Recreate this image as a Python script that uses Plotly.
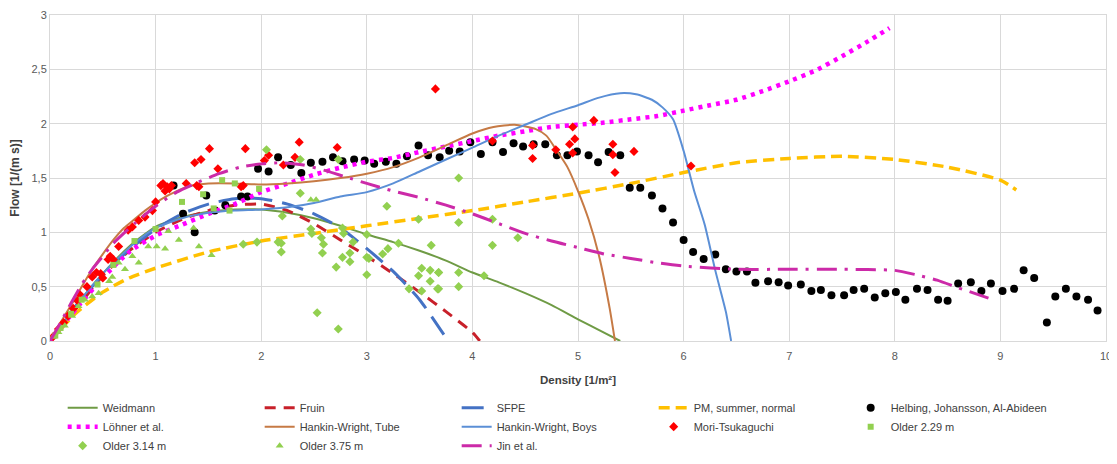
import plotly.graph_objects as go

# ---------------- data ----------------
weid_x = [0, 0.25, 0.5, 0.75, 1, 1.25, 1.5, 1.75, 2, 2.25, 2.5, 2.75, 3, 3.25, 3.5, 3.75, 4, 4.25, 4.5, 4.75, 5, 5.2, 5.4]
weid_y = [0, 0.33, 0.62, 0.87, 1.05, 1.14, 1.19, 1.21, 1.21, 1.18, 1.13, 1.06, 0.98, 0.91, 0.83, 0.74, 0.63, 0.54, 0.44, 0.33, 0.2, 0.1, 0]

fruin_x = [0, 0.25, 0.5, 0.75, 1, 1.25, 1.5, 1.75, 2, 2.25, 2.5, 2.75, 3, 3.25, 3.5, 3.75, 4, 4.07]
fruin_y = [0, 0.3, 0.6, 0.83, 1.0, 1.12, 1.2, 1.25, 1.26, 1.2, 1.08, 0.93, 0.78, 0.62, 0.45, 0.27, 0.08, 0]

sfpe_x = [0, 0.25, 0.5, 0.75, 1, 1.25, 1.5, 1.75, 2, 2.25, 2.5, 2.75, 3, 3.25, 3.5, 3.77]
sfpe_y = [0, 0.33, 0.61, 0.84, 1.03, 1.17, 1.26, 1.31, 1.31, 1.26, 1.17, 1.04, 0.85, 0.64, 0.38, 0]

pm_x = [0, 0.25, 0.5, 0.75, 1, 1.5, 2, 2.5, 3, 3.5, 4, 4.5, 5, 5.5, 6, 6.5, 7, 7.5, 8, 8.5, 9, 9.15]
pm_y = [0, 0.26, 0.45, 0.58, 0.67, 0.82, 0.92, 0.99, 1.06, 1.13, 1.2, 1.28, 1.36, 1.45, 1.55, 1.64, 1.68, 1.7, 1.67, 1.6, 1.48, 1.39]

helb_x = [1.17, 1.26, 1.37, 1.48, 1.56, 1.66, 1.81, 1.87, 1.97, 2.07, 2.16, 2.28, 2.38, 2.47, 2.58, 2.68, 2.77, 2.88,
          2.98, 3.07, 3.18, 3.28, 3.38, 3.49, 3.58, 3.69, 3.78, 3.88, 3.98, 4.08, 4.19, 4.29, 4.39, 4.48, 4.58, 4.69,
          4.80, 4.90, 4.99, 5.10, 5.19, 5.29, 5.40, 5.49, 5.59, 5.70, 5.80, 5.90, 6.00, 6.09, 6.19, 6.30, 6.40, 6.50,
          6.60, 6.68, 6.80, 6.90, 6.99, 7.11, 7.21, 7.30, 7.40, 7.52, 7.61, 7.71, 7.81, 7.91, 8.01, 8.10, 8.21, 8.31,
          8.41, 8.50, 8.60, 8.72, 8.82, 8.91, 9.02, 9.13, 9.22, 9.32, 9.44, 9.52, 9.62, 9.72, 9.83, 9.92]
helb_y = [1.43, 1.17, 1.00, 1.34, 1.20, 1.25, 1.33, 1.33, 1.585, 1.56, 1.69, 1.62, 1.545, 1.64, 1.65, 1.69, 1.655, 1.67,
          1.66, 1.63, 1.65, 1.63, 1.70, 1.80, 1.71, 1.69, 1.75, 1.745, 1.83, 1.72, 1.83, 1.74, 1.82, 1.79, 1.81, 1.81,
          1.71, 1.71, 1.745, 1.71, 1.645, 1.74, 1.71, 1.41, 1.41, 1.34, 1.22, 1.09, 0.93, 0.82, 0.755, 0.795, 0.66, 0.64,
          0.64, 0.535, 0.55, 0.54, 0.51, 0.52, 0.46, 0.47, 0.42, 0.42, 0.47, 0.48, 0.40, 0.44, 0.45, 0.38, 0.48, 0.47,
          0.38, 0.37, 0.53, 0.54, 0.46, 0.53, 0.46, 0.48, 0.65, 0.58, 0.17, 0.41, 0.48, 0.41, 0.38, 0.28]

lohner_x = [0, 0.25, 0.5, 0.75, 1, 1.25, 1.5, 1.75, 2, 2.25, 2.5, 2.75, 3, 3.25, 3.5, 3.75, 4, 4.25, 4.5, 4.75,
            5, 5.25, 5.5, 5.75, 6, 6.25, 6.5, 6.75, 7, 7.25, 7.5, 7.75, 7.95]
lohner_y = [0, 0.3, 0.58, 0.82, 0.97, 1.07, 1.17, 1.26, 1.37, 1.45, 1.53, 1.595, 1.65, 1.685, 1.74, 1.79, 1.84, 1.89,
            1.93, 1.97, 1.99, 2.01, 2.04, 2.07, 2.12, 2.17, 2.22, 2.30, 2.39, 2.49, 2.62, 2.76, 2.88]

hwt_x = [0, 0.1, 0.2, 0.3, 0.4, 0.5, 0.6, 0.7, 0.8, 0.9, 1.0, 1.1, 1.2, 1.3, 1.4, 1.5, 1.75, 2, 2.25, 2.5, 2.75, 3,
         3.25, 3.5, 3.75, 4, 4.2, 4.4, 4.6, 4.7, 4.8, 4.9, 5.0, 5.1, 5.2, 5.3, 5.35]
hwt_y = [0, 0.17, 0.33, 0.5, 0.66, 0.8, 0.93, 1.04, 1.12, 1.2, 1.27, 1.33, 1.38, 1.42, 1.44, 1.45, 1.45, 1.44, 1.45,
         1.47, 1.5, 1.54, 1.6, 1.69, 1.8, 1.91, 1.97, 1.99, 1.95, 1.89, 1.75, 1.6, 1.38, 1.12, 0.78, 0.3, 0]

hwb_x = [0, 0.1, 0.2, 0.3, 0.4, 0.5, 0.6, 0.8, 1.0, 1.25, 1.5, 1.75, 2, 2.25, 2.5, 2.75, 3, 3.25, 3.5, 3.75, 4,
         4.25, 4.5, 4.75, 5, 5.2, 5.4, 5.55, 5.7, 5.8, 5.9, 6.0, 6.1, 6.2, 6.3, 6.4, 6.45]
hwb_y = [0, 0.13, 0.26, 0.39, 0.51, 0.62, 0.72, 0.9, 1.04, 1.13, 1.18, 1.2, 1.21, 1.23, 1.27, 1.33, 1.37, 1.45, 1.56,
         1.67, 1.78, 1.89, 1.99, 2.09, 2.17, 2.24, 2.28, 2.27, 2.22, 2.15, 2.04, 1.75, 1.38, 1.07, 0.65, 0.27, 0]

mori_x = [0.03, 0.08, 0.13, 0.17, 0.22, 0.26, 0.28, 0.35, 0.40, 0.44, 0.48, 0.50, 0.55, 0.57, 0.60, 0.65, 0.74, 0.78,
          0.84, 0.90, 0.97, 1.0, 1.05, 1.07, 1.09, 1.11, 1.13, 1.15, 1.29, 1.39, 1.41, 1.37, 1.43, 1.51, 1.59, 1.81,
          1.83, 1.85, 2.03, 2.07, 2.21, 2.32, 2.36, 2.72, 3.65, 4.19, 4.57, 4.57, 4.79, 4.92, 4.95, 4.97, 4.95, 5.15,
          5.33, 5.33, 5.35, 5.53, 6.07]
mori_y = [0.04, 0.11, 0.17, 0.23, 0.30, 0.37, 0.43, 0.50, 0.59, 0.63, 0.62, 0.58, 0.75, 0.78, 0.75, 0.87, 1.02, 1.05,
          1.11, 1.14, 1.2, 1.28, 1.43, 1.45, 1.38, 1.42, 1.40, 1.43, 1.45, 1.43, 1.42, 1.64, 1.67, 1.77, 1.585, 1.42,
          1.43, 1.77, 1.66, 1.71, 1.62, 1.69, 1.83, 1.78, 2.32, 1.84, 1.68, 1.80, 1.76, 1.81, 1.73, 1.86, 1.97, 2.03,
          1.81, 1.715, 1.55, 1.745, 1.61]

old229_x = [0.05, 0.1, 0.2, 0.3, 0.45, 0.6, 0.8, 1.0, 1.25, 1.45, 1.55, 1.63, 1.7, 1.75, 1.98]
old229_y = [0.05, 0.12, 0.25, 0.38, 0.52, 0.7, 0.92, 1.03, 1.28, 1.35, 1.22, 1.48, 1.2, 1.45, 1.4]

old314_x = [2.05, 2.37, 2.73, 2.37, 2.2, 2.47, 2.48, 2.57, 2.59, 2.58, 2.77, 2.78, 2.87, 2.84, 2.77, 2.84, 2.71, 3.0,
            3.0, 3.02, 3.0, 3.15, 3.2, 3.19, 3.3, 3.49, 3.61, 3.49, 3.52, 3.6, 3.68, 3.6, 3.67, 3.52, 3.4, 3.87, 3.87,
            3.87, 3.87, 2.16, 2.19, 2.19, 1.96, 1.83, 2.53, 2.73, 4.19, 4.43, 4.19, 4.11, 3.68, 3.68]
old314_y = [1.76, 1.67, 1.67, 1.36, 1.15, 1.03, 0.99, 0.95, 0.89, 0.81, 1.04, 0.99, 0.91, 0.81, 0.77, 0.73, 0.68, 0.77,
            0.98, 0.76, 0.61, 0.8, 0.85, 1.24, 0.90, 1.12, 0.88, 0.6, 0.67, 0.65, 0.63, 0.55, 0.48, 0.46, 0.48, 1.50, 1.09,
            0.63, 0.50, 0.91, 0.90, 0.82, 0.91, 0.89, 0.26, 0.11, 1.12, 0.95, 0.88, 0.60, 0.63, 0.48]

old375_x = [0.03, 0.08, 0.14, 0.21, 0.27, 0.33, 0.40, 0.46, 0.56, 0.59, 0.65, 0.71, 0.78, 0.84, 0.93, 1.01, 1.09,
            1.12, 1.22, 1.36, 1.41, 1.53, 2.47, 2.52]
old375_y = [0.04, 0.08, 0.14, 0.23, 0.32, 0.38, 0.41, 0.44, 0.55, 0.59, 0.72, 0.66, 0.78, 0.72, 0.87, 0.87, 0.85,
            1.01, 0.93, 1.04, 0.87, 0.79, 1.30, 1.30]

jin_x = [0, 0.1, 0.2, 0.3, 0.4, 0.5, 0.6, 0.8, 1.0, 1.2, 1.4, 1.6, 1.8, 2.0, 2.2, 2.4, 2.6, 2.8, 3.0, 3.25, 3.5, 3.75,
         4.0, 4.25, 4.5, 4.75, 5.0, 5.25, 5.5, 5.75, 6.0, 6.5, 7.0, 7.5, 8.0, 8.2, 8.4, 8.6, 8.9]
jin_y = [0, 0.17, 0.35, 0.52, 0.66, 0.78, 0.9, 1.08, 1.24, 1.37, 1.46, 1.54, 1.6, 1.63, 1.64, 1.62, 1.57, 1.51, 1.45,
         1.38, 1.32, 1.25, 1.17, 1.08, 0.99, 0.92, 0.86, 0.8, 0.76, 0.72, 0.69, 0.66, 0.66, 0.66, 0.65, 0.61, 0.56, 0.49,
         0.39]

GREEN = "#92d050"

fig = go.Figure()


def line(x, y, name, color, width, dash="solid"):
    fig.add_trace(go.Scatter(x=x, y=y, name=name, mode="lines",
                             line=dict(color=color, width=width, dash=dash, shape="spline", smoothing=0.6)))


def pts(x, y, name, color, symbol, size):
    fig.add_trace(go.Scatter(x=x, y=y, name=name, mode="markers",
                             marker=dict(color=color, symbol=symbol, size=size, line=dict(width=0))))


line(weid_x, weid_y, "Weidmann", "#6f9b45", 2)
line(fruin_x, fruin_y, "Fruin", "#c8202a", 3, "11px,8px")
line(sfpe_x, sfpe_y, "SFPE", "#4472c4", 3, "22px,10px")
line(pm_x, pm_y, "PM, summer, normal", "#ffc000", 3.5, "11px,6px")
pts(helb_x, helb_y, "Helbing, Johansson, Al-Abideen", "black", "circle", 8)
line(lohner_x, lohner_y, "Löhner et al.", "#ff00ff", 4.5, "4px,5px")
line(hwt_x, hwt_y, "Hankin-Wright, Tube", "#c67a45", 2)
line(hwb_x, hwb_y, "Hankin-Wright, Boys", "#5b8fd6", 2)
pts(mori_x, mori_y, "Mori-Tsukaguchi", "#ff0000", "diamond", 7)
pts(old229_x, old229_y, "Older 2.29 m", GREEN, "square", 6)
pts(old314_x, old314_y, "Older 3.14 m", GREEN, "diamond", 7)
pts(old375_x, old375_y, "Older 3.75 m", GREEN, "triangle-up", 7)
line(jin_x, jin_y, "Jin et al.", "#cc2aa8", 3, "20px,8px,3px,8px")

axis_font = dict(family="Liberation Sans", size=11, color="#595959")
fig.update_layout(
    width=1109, height=456,
    margin=dict(l=42, r=11, t=7, b=123, autoexpand=False),
    paper_bgcolor="white", plot_bgcolor="white",
    separators=",.",
    font=dict(family="Liberation Sans", size=11, color="#404040"),
    xaxis=dict(range=[0, 10], dtick=1, tick0=0, showgrid=True, gridcolor="#d9d9d9", gridwidth=1,
               zeroline=False, showline=True, linecolor="#d9d9d9", mirror=True,
               tickfont=axis_font, ticks="", ticklabelstandoff=5, automargin=False,
               ticklabeloverflow="allow",
               title=dict(text="<b>Density [1/m²]</b>", font=dict(size=11.5, color="#404040"), standoff=14)),
    yaxis=dict(range=[0, 3], dtick=0.5, tick0=0, showgrid=True, gridcolor="#d9d9d9", gridwidth=1,
               zeroline=False, showline=True, linecolor="#d9d9d9", mirror=True,
               tickfont=axis_font, ticks="", automargin=False,
               ticklabeloverflow="allow",
               title=dict(text="<b>Flow [1/(m s)]</b>", font=dict(size=12, color="#404040"), standoff=10)),
    legend=dict(orientation="h", x=0.012, xanchor="left", y=-0.16, yanchor="top",
                entrywidth=152, entrywidthmode="pixels", font=dict(size=11, color="#404040"),
                traceorder="normal", itemwidth=30),
    showlegend=True,
)

fig.write_html("out.html")
